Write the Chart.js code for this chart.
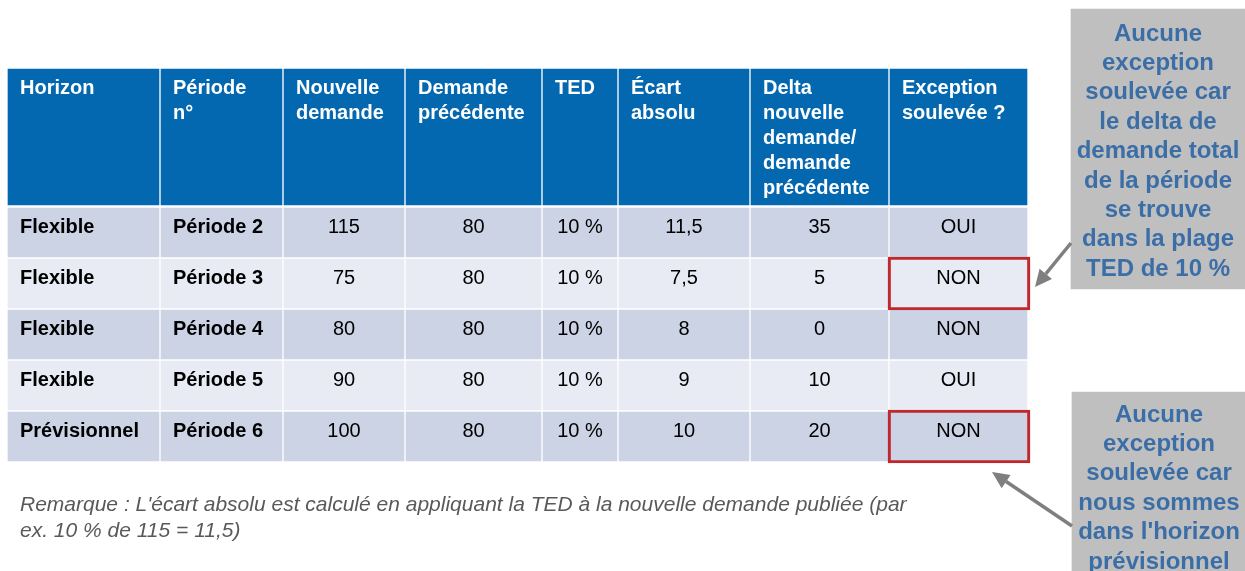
<!DOCTYPE html>
<html>
<head>
<meta charset="utf-8">
<script src="https://cdn.jsdelivr.net/npm/chart.js@4.4.1/dist/chart.umd.min.js"></script>
<style>
    html, body { margin: 0; padding: 0; background: #fff; overflow: hidden; }
    canvas { display: block; }
</style>
</head>
<body>
<canvas id="table" width="1245" height="571"></canvas>
<script>
// table content
const headers = [
    'Horizon',
    'Période\nn°',
    'Nouvelle\ndemande',
    'Demande\nprécédente',
    'TED',
    'Écart\nabsolu',
    'Delta\nnouvelle\ndemande/\ndemande\nprécédente',
    'Exception\nsoulevée ?',
]
const horizons = ['Flexible', 'Flexible', 'Flexible', 'Flexible', 'Prévisionnel']
const periods = ['Période 2', 'Période 3', 'Période 4', 'Période 5', 'Période 6']
const newDemand = [115, 75, 80, 90, 100]
const prevDemand = [80, 80, 80, 80, 80]
const tedPct = [10, 10, 10, 10, 10]
const absGap = [11.5, 7.5, 8, 9, 10]
const delta = [35, 5, 0, 10, 20]
const exception = ['OUI', 'NON', 'NON', 'OUI', 'NON']
const flaggedRows = [1, 4]
const callouts = [
    ['Aucune', 'exception', 'soulevée car', 'le delta de', 'demande total', 'de la période', 'se trouve', 'dans la plage', 'TED de 10 %'],
    ['Aucune', 'exception', 'soulevée car', 'nous sommes', "dans l'horizon", 'prévisionnel'],
]
const remark = [
    "Remarque : L'écart absolu est calculé en appliquant la TED à la nouvelle demande publiée (par",
    'ex. 10 % de 115 = 11,5)',
]

// layout
const W = 1245, H = 571
const colEdges = [7, 160, 283, 405, 542, 618, 750, 889, 1028]
const headTop = 69, headH = 136
const rowTop = 208, rowPitch = 51, rowH = 49
const boxW = 174, boxH = 280
const boxPos = [{ left: 1071, top: 9 }, { left: 1072, top: 392 }]
const FONT = '"Liberation Sans", Arial, sans-serif'
const colors = {
    head: '#0468B1',
    odd: '#CBD3E5',
    even: '#E8EBF3',
    red: '#C0282D',
    box: '#BFBFBF',
    boxText: '#3B6EA7',
    arrow: '#7F7F7F',
    remark: '#595959',
}

const fr = v => String(v).replace('.', ',')
const rowCells = r => [
    horizons[r], periods[r], newDemand[r], prevDemand[r],
    tedPct[r] + ' %', fr(absGap[r]), delta[r], exception[r],
]
const cellX = c => [colEdges[c] + 1, colEdges[c + 1] - 1]
const rowY = r => rowTop + r * rowPitch + rowH / 2

const headData = headers.map((h, c) => ({ x: cellX(c), y: headTop + headH / 2, c }))
const bodyData = []
horizons.forEach((_, r) => {
    headers.forEach((_, c) => bodyData.push({ x: cellX(c), y: rowY(r), r, c }))
})
const flagData = flaggedRows.map(r => ({
    x: [colEdges[7] - 1, colEdges[8] + 2], y: rowY(r), r,
}))
const boxData = boxPos.map((b, i) => ({ x: [b.left, b.left + boxW], y: b.top + boxH / 2, i }))

function barBox(el) {
    return {
        left: Math.min(el.x, el.base),
        right: Math.max(el.x, el.base),
        top: el.y - el.height / 2,
        bottom: el.y + el.height / 2,
    }
}

function drawArrow(ctx, x0, y0, x1, y1) {
    const a = Math.atan2(y1 - y0, x1 - x0)
    const len = 17, half = 8
    const bx = x1 - len * Math.cos(a), by = y1 - len * Math.sin(a)
    ctx.strokeStyle = colors.arrow
    ctx.fillStyle = colors.arrow
    ctx.lineWidth = 3.5
    ctx.beginPath()
    ctx.moveTo(x0, y0)
    ctx.lineTo(bx, by)
    ctx.stroke()
    ctx.beginPath()
    ctx.moveTo(x1, y1)
    ctx.lineTo(bx + half * Math.sin(a), by - half * Math.cos(a))
    ctx.lineTo(bx - half * Math.sin(a), by + half * Math.cos(a))
    ctx.closePath()
    ctx.fill()
}

const tableText = {
    id: 'tableText',
    afterDatasetsDraw(chart) {
        const ctx = chart.ctx
        const metaOf = label => chart.getDatasetMeta(chart.data.datasets.findIndex(d => d.label === label))
        ctx.save()
        ctx.textBaseline = 'middle'

        // header
        ctx.fillStyle = '#fff'
        ctx.font = 'bold 20px ' + FONT
        ctx.textAlign = 'left'
        metaOf('header').data.forEach((el, c) => {
            const b = barBox(el)
            headers[c].split('\n').forEach((line, k) => {
                ctx.fillText(line, b.left + 12, b.top + 19 + k * 25)
            })
        })

        // body
        metaOf('body').data.forEach((el, k) => {
            const { r, c } = bodyData[k]
            const b = barBox(el)
            const txt = String(rowCells(r)[c])
            ctx.fillStyle = '#000'
            if (c < 2) {
                ctx.font = 'bold 20px ' + FONT
                ctx.textAlign = 'left'
                ctx.fillText(txt, b.left + 12, b.top + 19)
            } else {
                ctx.font = '20px ' + FONT
                ctx.textAlign = 'center'
                ctx.fillText(txt, (b.left + b.right) / 2, b.top + 19)
            }
        })

        // callouts
        ctx.fillStyle = colors.boxText
        ctx.font = 'bold 24px ' + FONT
        ctx.textAlign = 'center'
        const boxes = metaOf('callouts').data.map(barBox)
        boxes.forEach((b, i) => {
            callouts[i].forEach((line, k) => {
                ctx.fillText(line, (b.left + b.right) / 2, b.top + 25 - i * 2 + k * 29.4)
            })
        })

        // arrows from callouts to flagged cells
        const flags = metaOf('flag').data.map(barBox)
        drawArrow(ctx, boxes[0].left, boxes[0].top + 234, flags[0].right + 5, flags[0].bottom - 23)
        drawArrow(ctx, boxes[1].left, boxes[1].top + 134, flags[1].right - 38, flags[1].bottom + 9)

        // remark
        ctx.fillStyle = colors.remark
        ctx.font = 'italic 21px ' + FONT
        ctx.textAlign = 'left'
        remark.forEach((line, k) => ctx.fillText(line, 20, 505 + k * 26))
        ctx.restore()
    },
}

const common = { stack: 'cells', borderSkipped: false }
new Chart(document.getElementById('table'), {
    type: 'bar',
    data: {
        datasets: [
            {
                ...common, label: 'flag', data: flagData, barThickness: rowH + 4,
                backgroundColor: 'rgba(0,0,0,0)', borderColor: colors.red, borderWidth: 2.5,
            },
            { ...common, label: 'header', data: headData, barThickness: headH, backgroundColor: colors.head },
            {
                ...common, label: 'body', data: bodyData, barThickness: rowH,
                backgroundColor: ctx => (ctx.raw && ctx.raw.r % 2 ? colors.even : colors.odd),
            },
            { ...common, label: 'callouts', data: boxData, barThickness: boxH, backgroundColor: colors.box },
        ],
    },
    options: {
        indexAxis: 'y',
        responsive: false,
        devicePixelRatio: 1,
        animation: false,
        layout: { padding: 0 },
        plugins: { legend: { display: false }, tooltip: { enabled: false } },
        scales: {
            x: { type: 'linear', min: 0, max: W, display: false, stacked: false, offset: false },
            y: { type: 'linear', min: 0, max: H, reverse: true, display: false, offset: false },
        },
    },
    plugins: [tableText],
})
</script>
</body>
</html>
